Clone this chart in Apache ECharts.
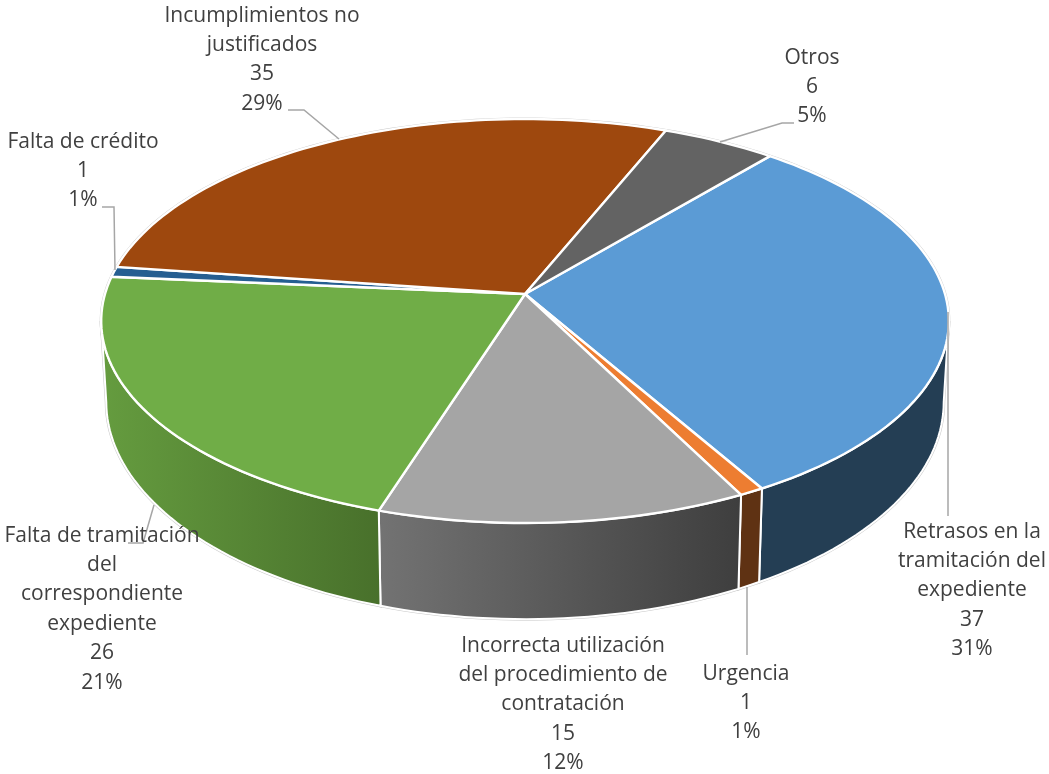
<!DOCTYPE html>
<html>
<head>
<meta charset="utf-8">
<style>html,body{margin:0;padding:0;background:#fff}#c{width:1049px;height:774px}</style>
<script src="https://cdn.jsdelivr.net/npm/echarts@6/dist/echarts.min.js"></script>
</head>
<body>
<div id="c"></div>
<script>
// Data
const labelLines = [
  ['Retrasos en la', 'tramitación del', 'expediente'],
  ['Urgencia'],
  ['Incorrecta utilización', 'del procedimiento de', 'contratación'],
  ['Falta de tramitación', 'del', 'correspondiente', 'expediente'],
  ['Falta de crédito'],
  ['Incumplimientos no', 'justificados'],
  ['Otros']
];
const values = [37, 1, 15, 26, 1, 35, 6];

// Styles
const topColors = ['#5b9bd5', '#ed7d31', '#a5a5a5', '#70ad47', '#255e91', '#9e480e', '#636363'];
const sideLeft  = ['#243e54', '#5f3213', '#737373', '#659c3f', '#163856', '#5f2b08', '#3b3b3b'];
const sideRight = ['#243e54', '#5f3213', '#3e3e3e', '#48702b', '#163856', '#5f2b08', '#3b3b3b'];
const labelCenter = [[972, 517], [746, 659], [563, 631], [102, 521], [83, 127], [262, 1], [812, 43]];
const leaders = [
  [[948, 312], [948, 516]],
  [[747, 587], [747, 655]],
  null,
  [[154, 505], [143, 543], [128, 543]],
  [[102, 207], [114, 207], [115, 270]],
  [[288, 110], [304, 110], [339, 139]],
  [[794, 123], [782, 123], [720, 142]]
];
const startDeg = 40.0;

// Projection of the tilted disc
const ax = 525, ay = 294, kP = 0.1337, bY = 198.4, cX = 420;
const total = values.reduce((a, b) => a + b, 0);
const angles = [];
values.reduce((acc, v) => { angles.push([acc, acc + v / total * 360]); return acc + v / total * 360; }, startDeg);
const frontFrom = Math.acos(-kP) * 180 / Math.PI, frontTo = 360 - frontFrom;

function rimTop(deg) {
  const t = deg * Math.PI / 180, X = Math.sin(t), Y = -Math.cos(t), d = 1 - kP * Y;
  return [ax + cX * X / d, ay + bY * Y / d];
}
function rimBottom(deg) {
  const p = rimTop(deg);
  return [ax + (p[0] - ax) * 0.988, 402 + (p[1] - 321) * 1.075];
}
function arc(fn, a0, a1) {
  const pts = [], n = Math.max(2, Math.ceil(Math.abs(a1 - a0) / 1.5));
  for (let i = 0; i <= n; i++) pts.push(fn(a0 + (a1 - a0) * i / n));
  return pts;
}
function wallPoints(i) {
  const a = Math.max(angles[i][0], frontFrom), b = Math.min(angles[i][1], frontTo);
  if (b <= a) return null;
  return arc(rimTop, a, b).concat(arc(rimBottom, b, a));
}

const chart = echarts.init(document.getElementById('c'), null, { renderer: 'canvas' });
const seriesData = values.map((v, i) => [v, i]);

function renderOutline(params, api) {
  const i = api.value(1), a = angles[i], w = wallPoints(i);
  const children = [{
    type: 'polyline',
    shape: { points: arc(rimTop, a[0], a[1]) },
    style: { fill: null, stroke: '#c9c9c9', lineWidth: 3 }
  }];
  if (w) children.push({
    type: 'polygon',
    shape: { points: w },
    style: { fill: null, stroke: '#c9c9c9', lineWidth: 3 }
  });
  return { type: 'group', children };
}
function renderWall(params, api) {
  const i = api.value(1), w = wallPoints(i);
  if (!w) return null;
  return {
    type: 'polygon',
    shape: { points: w },
    style: {
      fill: { type: 'linear', x: 0, y: 0, x2: 1, y2: 0, colorStops: [
        { offset: 0, color: sideLeft[i] }, { offset: 1, color: sideRight[i] }
      ] },
      stroke: '#ffffff', lineWidth: 2, lineJoin: 'round'
    }
  };
}
function renderTop(params, api) {
  const i = api.value(1), a = angles[i];
  return {
    type: 'polygon',
    shape: { points: [[ax, ay]].concat(arc(rimTop, a[0], a[1])) },
    style: { fill: topColors[i], stroke: '#ffffff', lineWidth: 2.4, lineJoin: 'round' }
  };
}
function renderLabel(params, api) {
  const i = api.value(1), v = api.value(0);
  const text = labelLines[i].concat([String(v), Math.round(v / total * 100) + '%']).join('\n');
  const children = [];
  if (leaders[i]) children.push({
    type: 'polyline',
    shape: { points: leaders[i] },
    style: { fill: null, stroke: '#a6a6a6', lineWidth: 1.5 }
  });
  children.push({
    type: 'text',
    style: {
      text, x: labelCenter[i][0], y: labelCenter[i][1],
      align: 'center', verticalAlign: 'top',
      fill: '#404040', lineHeight: 29.4,
      font: '21px "Open Sans"'
    }
  });
  return { type: 'group', children };
}

const mk = (renderItem, z) => ({
  type: 'custom', coordinateSystem: 'none', renderItem, data: seriesData,
  z, silent: true, animation: false, clip: false
});
chart.setOption({
  backgroundColor: '#ffffff',
  animation: false,
  series: [mk(renderOutline, 1), mk(renderWall, 2), mk(renderTop, 3), mk(renderLabel, 4)]
});
</script>
</body>
</html>
